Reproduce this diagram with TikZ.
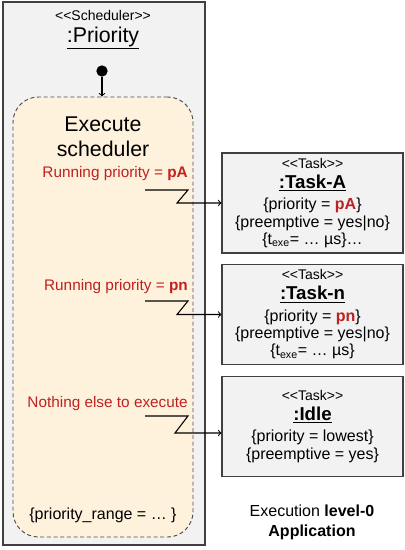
\documentclass[tikz,border=0pt]{standalone}
\usepackage{fontspec}
\setmainfont{Liberation Sans}
\definecolor{boxgray}{RGB}{242,242,242}
\definecolor{peach}{RGB}{255,242,220}
\definecolor{prio}{RGB}{192,32,32}
\newcommand{\prio}[1]{\textcolor{prio}{\textbf{#1}}}
\newcommand{\stereo}[1]{{\fontsize{10.5}{12}\selectfont <{}<#1>{}>}}
\tikzset{
  obj/.style={draw=black!75,fill=boxgray,line width=0.8pt,inner sep=0pt},
  task/.style={obj,minimum width=135.75pt,minimum height=75pt,align=center},
  state/.style={draw=black!70,fill=peach,dashed,dash pattern=on 3pt off 2pt,
    line width=0.7pt,rounded corners=19pt,minimum width=135pt,minimum height=330pt},
  initial/.style={circle,fill=black,inner sep=0pt,minimum size=8.5pt},
  cond/.style={text=prio,anchor=east,inner sep=0pt,font=\fontsize{11.5}{12}\selectfont},
  event/.style={->,line width=0.8pt}
}
\begin{document}
\begin{tikzpicture}[x=0.75pt,y=-0.75pt,font=\fontsize{12}{12}\selectfont]
\useasboundingbox (0,0) rectangle (404,550);
% scheduler
\node[obj,minimum width=151.5pt,minimum height=407.25pt] (sched) at (104,273.5) {};
\node (schedst) at (103,15) {\stereo{Scheduler}};
\node (schedname) at (103,38) {\fontsize{16}{16}\selectfont\underline{:Priority}};
\node[initial] (init) at (102,71) {};
\node[state] (exec) at (103,317) {};
\draw[->,line width=0.8pt] (init) -- (init |- exec.north);
\node[align=center,font=\fontsize{16}{19}\selectfont] (execname) at (103,137) {Execute\\scheduler};
\node[cond] (runA) at (188,174) {Running priority = \textbf{pA}};
\node[cond] (runN) at (188,287) {Running priority = \textbf{pn}};
\node[cond] (idleC) at (188,404) {Nothing else to execute};
\node (range) at (103,515) {\{priority\_range = … \}};
% tasks
\node[task] (taskA) at (312.5,203) {\stereo{Task}\\[3pt]
  {\fontsize{14}{14}\selectfont\bfseries\underline{:Task-A}}\\[4pt]
  \{priority = \prio{pA}\}\\[1pt]
  \{preemptive = yes|no\}\\[1pt]
  \{t\textsubscript{exe}= … µs\}…};
\node[task] (taskN) at (312.5,314.5) {\stereo{Task}\\[3pt]
  {\fontsize{14}{14}\selectfont\bfseries\underline{:Task-n}}\\[4pt]
  \{priority = \prio{pn}\}\\[1pt]
  \{preemptive = yes|no\}\\[1pt]
  \{t\textsubscript{exe}= … µs\}};
\node[task] (idle) at (312.5,426.5) {\stereo{Task}\\[3pt]
  {\fontsize{14}{14}\selectfont\bfseries\underline{:Idle}}\\[4pt]
  \{priority = lowest\}\\[1pt]
  \{preemptive = yes\}};
% events
\coordinate (a1) at (145,190);
\coordinate (a2) at (188,190);
\coordinate (a3) at (177,203);
\draw[event] (a1) -- (a2) -- (a3) -- (a3 -| taskA.west);
\coordinate (n1) at (145,301);
\coordinate (n2) at (188,301);
\coordinate (n3) at (177,314.5);
\draw[event] (n1) -- (n2) -- (n3) -- (n3 -| taskN.west);
\coordinate (i1) at (145,416);
\coordinate (i2) at (188,416);
\coordinate (i3) at (175,433);
\draw[event] (i1) -- (i2) -- (i3) -- (i3 -| idle.west);
\node[align=center] (level) at (312,522) {Execution \textbf{level-0}\\[3pt]\textbf{Application}};
\end{tikzpicture}
\end{document}
